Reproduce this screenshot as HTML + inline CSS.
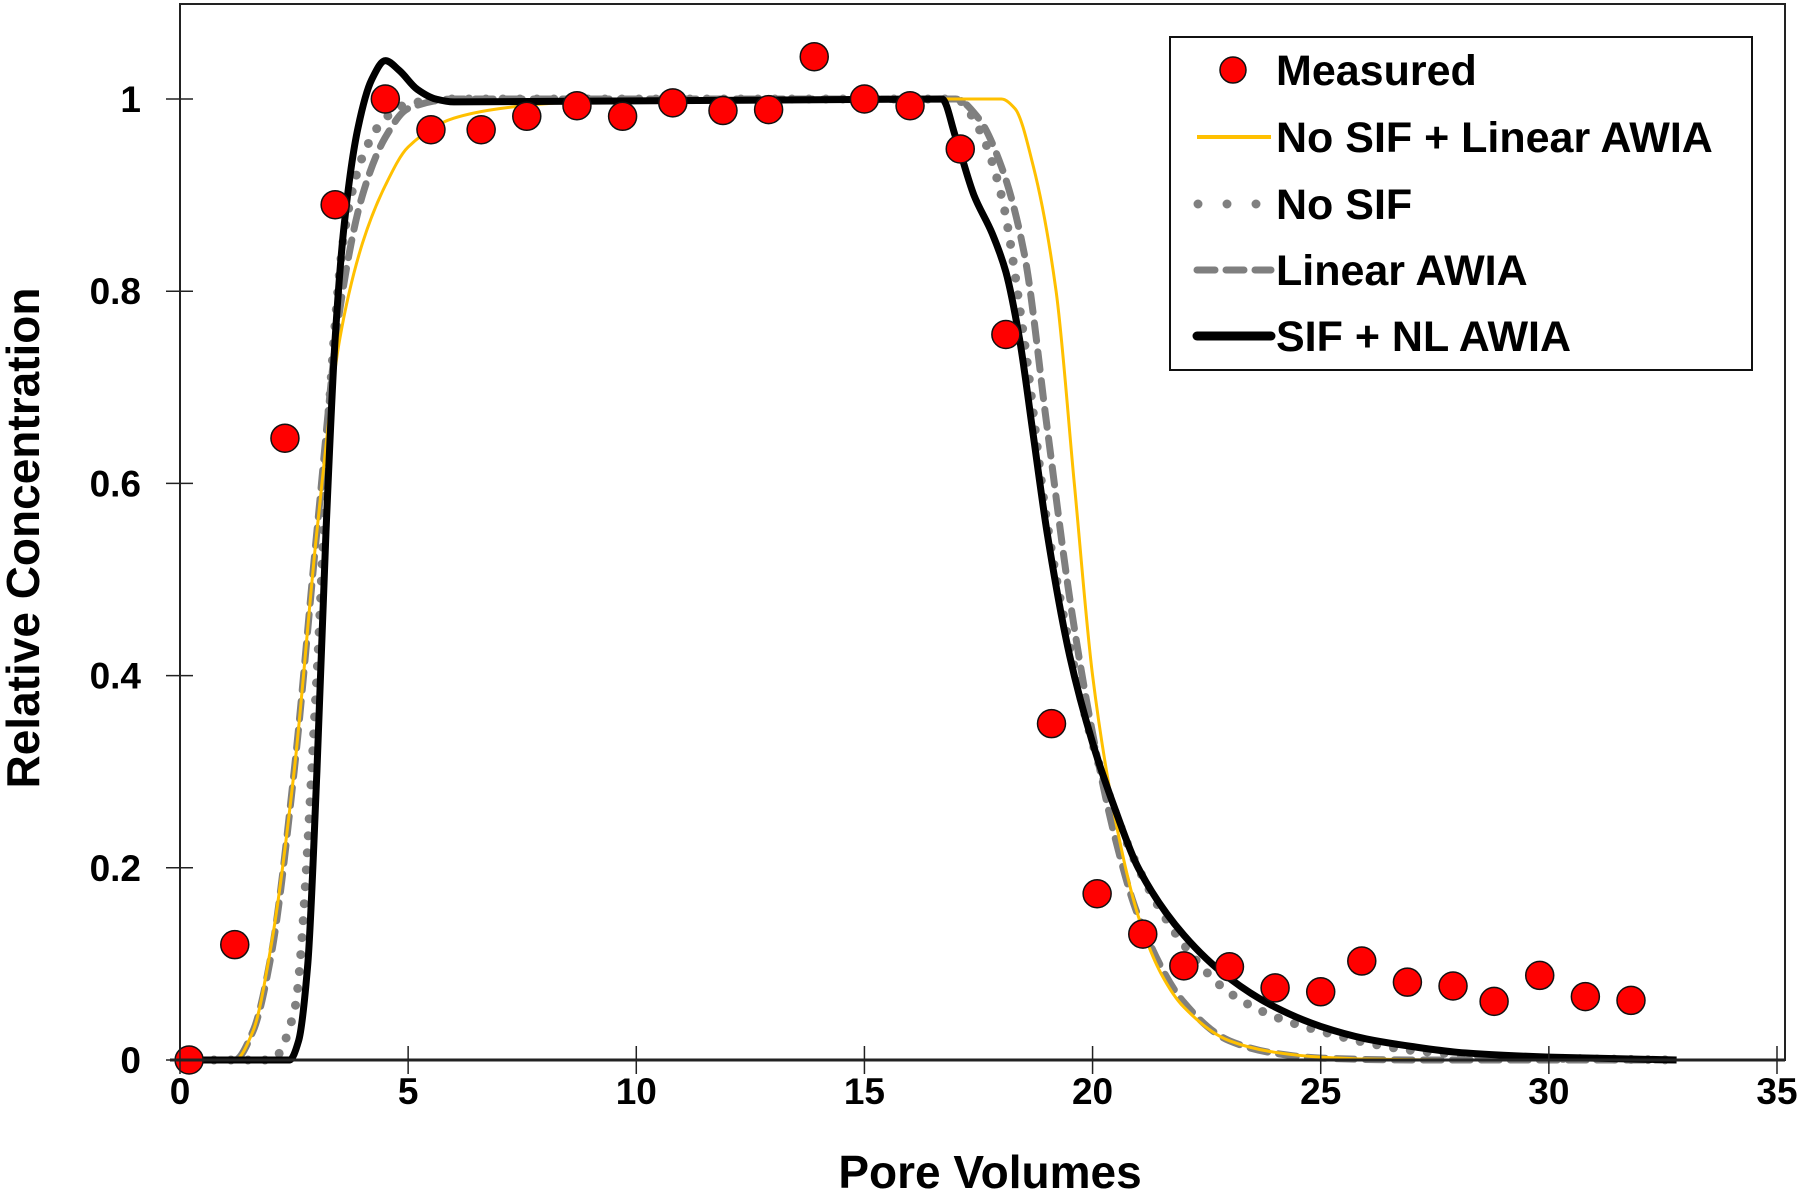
<!DOCTYPE html>
<html><head><meta charset="utf-8">
<style>
html,body{margin:0;padding:0;background:#fff;}
svg{display:block;font-family:"Liberation Sans",Arial,sans-serif;font-weight:bold;}
</style></head>
<body>
<svg id="chart" width="1800" height="1192" viewBox="0 0 1800 1192" xmlns="http://www.w3.org/2000/svg">
<g id="grid"></g>
<g id="series"></g>
<g id="axes"></g>
<g id="legend"></g>
</svg>
<script>
const xTicks=[0,5,10,15,20,25,30,35];
const yTicks=[0,0.2,0.4,0.6,0.8,1];
const yTickLabels=["0","0.2","0.4","0.6","0.8","1"];
const measuredX=[0.2,1.2,2.3,3.4,4.5,5.5,6.6,7.6,8.7,9.7,10.8,11.9,12.9,13.9,15,16,17.1,18.1,19.1,20.1,21.1,22,23,24,25,25.9,26.9,27.9,28.8,29.8,30.8,31.8];
const measuredY=[0,0.12,0.647,0.89,1.0,0.968,0.968,0.982,0.993,0.982,0.996,0.988,0.989,1.044,1.0,0.993,0.948,0.755,0.35,0.173,0.131,0.098,0.097,0.075,0.071,0.103,0.081,0.077,0.061,0.088,0.066,0.062];
const yellowX=[0,1.2,1.6,2,2.5,3,3.5,4,4.5,5,6,7,8,10,17,18,18.3,18.7,19.2,19.6,20,20.5,21,21.5,22,23,24,25,26,28,32.8];
const yellowY=[0,0,0.03,0.12,0.3,0.55,0.75,0.85,0.91,0.95,0.98,0.99,0.995,1,1,1,0.99,0.93,0.8,0.6,0.4,0.25,0.15,0.09,0.055,0.02,0.008,0.003,0.001,0,0];
const linearX=[0,1.2,1.6,2,2.5,3,3.5,4,4.5,5,6,17,17.5,18,18.5,19,19.5,20,20.5,21,22,23,24,25,27,32.8];
const linearY=[0,0,0.03,0.11,0.3,0.55,0.78,0.9,0.96,0.99,1.0,1,0.98,0.93,0.84,0.66,0.48,0.34,0.23,0.15,0.06,0.02,0.007,0.002,0,0];
const noSifX=[0,2,2.5,3,3.3,3.6,4,4.5,5,6,17,17.5,18,18.5,19,19.5,20,21,22,23,24,25,26,27,28,30,32.8];
const noSifY=[0,0,0.05,0.4,0.7,0.86,0.94,0.98,0.995,1,1,0.97,0.9,0.75,0.56,0.43,0.33,0.2,0.12,0.07,0.045,0.03,0.018,0.01,0.006,0.002,0];
const sifX=[0,2.4,2.6,2.8,3.0,3.2,3.4,3.6,3.9,4.2,4.5,4.8,5.2,5.6,6,16.7,17,17.4,17.8,18.1,18.4,18.7,19,19.5,20,20.5,21,22,23,24,25,26,27,28,29,30,32.8];
const sifY=[0,0,0.02,0.1,0.3,0.55,0.75,0.87,0.97,1.02,1.04,1.03,1.01,1.0,0.997,1,0.96,0.9,0.86,0.82,0.75,0.65,0.55,0.42,0.33,0.26,0.2,0.13,0.085,0.055,0.035,0.022,0.014,0.008,0.005,0.003,0];

const NS="http://www.w3.org/2000/svg";
const X0=180,X1=1777,Y0=1060,Y1=99;
const sx=v=>X0+(X1-X0)*v/35;
const sy=v=>Y0-(Y0-Y1)*v;
function mk(tag,attrs,parent){const e=document.createElementNS(NS,tag);for(const k in attrs)e.setAttribute(k,attrs[k]);parent.appendChild(e);return e;}
const G=document.getElementById('grid'),S=document.getElementById('series'),A=document.getElementById('axes'),L=document.getElementById('legend');

let fr=mk('rect',{x:180,y:4,width:1605,height:1056,fill:'none',stroke:'#222','stroke-width':2},G);



// monotone cubic (Fritsch-Carlson) in data space
function monoD(xs,ys){
  const n=xs.length,dx=[],m=[],t=new Array(n);
  for(let i=0;i<n-1;i++){dx[i]=xs[i+1]-xs[i];m[i]=(ys[i+1]-ys[i])/dx[i];}
  t[0]=m[0];t[n-1]=m[n-2];
  for(let i=1;i<n-1;i++){t[i]=(m[i-1]*m[i]<=0)?0:3*(dx[i-1]+dx[i])/((2*dx[i]+dx[i-1])/m[i-1]+(dx[i]+2*dx[i-1])/m[i]);}
  let d='M'+sx(xs[0]).toFixed(1)+','+sy(ys[0]).toFixed(1);
  for(let i=0;i<n-1;i++){
    const h=dx[i];
    const c1x=xs[i]+h/3,c1y=ys[i]+t[i]*h/3,c2x=xs[i+1]-h/3,c2y=ys[i+1]-t[i+1]*h/3;
    d+='C'+sx(c1x).toFixed(1)+','+sy(c1y).toFixed(1)+' '+sx(c2x).toFixed(1)+','+sy(c2y).toFixed(1)+' '+sx(xs[i+1]).toFixed(1)+','+sy(ys[i+1]).toFixed(1);
  }
  return d;
}
function path(xs,ys,attrs,name){
  const p=mk('path',Object.assign({d:monoD(xs,ys),fill:'none','stroke-linejoin':'round'},attrs),S);
  
  
}
path(linearX,linearY,{stroke:'#7f7f7f','stroke-width':7,'stroke-dasharray':'18 11','stroke-linecap':'round'},'linear-awia-line');
path(noSifX,noSifY,{stroke:'#808080','stroke-width':9,'stroke-dasharray':'0 17','stroke-linecap':'round'},'no-sif-line');
path(yellowX,yellowY,{stroke:'#ffc000','stroke-width':3},'no-sif-linear-awia-line');
path(sifX,sifY,{stroke:'#000','stroke-width':7},'sif-nl-awia-line');

let ax=mk('line',{x1:170,y1:Y0,x2:1785,y2:Y0,stroke:'#222','stroke-width':3},A);


xTicks.forEach(t=>{
  const tk=mk('line',{x1:sx(t),y1:Y0-14,x2:sx(t),y2:Y0+14,stroke:'#222','stroke-width':1.5},A);
  
  
  const tx=mk('text',{x:sx(t),y:1104,'text-anchor':'middle','font-size':37},A);
  tx.textContent=t;
  
  
});
yTicks.forEach((t,i)=>{
  const tk=mk('line',{x1:166,y1:sy(t),x2:193,y2:sy(t),stroke:'#222','stroke-width':1.5},A);
  
  
  const tx=mk('text',{x:141,y:sy(t)+13,'text-anchor':'end','font-size':37},A);
  tx.textContent=yTickLabels[i];
  
  
});
let xt=mk('text',{x:990,y:1188,'text-anchor':'middle','font-size':46},A);
xt.textContent='Pore Volumes';


let yt=mk('text',{x:0,y:0,'text-anchor':'middle','font-size':46,transform:'translate(39,538) rotate(-90)'},A);
yt.textContent='Relative Concentration';



measuredX.forEach((x,i)=>{
  const c=mk('circle',{cx:sx(x),cy:sy(measuredY[i]),r:14,fill:'#ff0000',stroke:'#111','stroke-width':1.5},S);
  
  
});

let lb=mk('rect',{x:1170,y:37,width:582,height:333,fill:'#fff',stroke:'#111','stroke-width':2},L);


const rows=[70,137,204,270,336];
const labels=['Measured','No SIF + Linear AWIA','No SIF','Linear AWIA','SIF + NL AWIA'];
let m=mk('circle',{cx:1233,cy:rows[0],r:13,fill:'#ff0000',stroke:'#111','stroke-width':1.5},L);


const sw=[{stroke:'#ffc000','stroke-width':4},{stroke:'#808080','stroke-width':9,'stroke-dasharray':'0 29','stroke-linecap':'round'},{stroke:'#7f7f7f','stroke-width':7,'stroke-dasharray':'18 11','stroke-linecap':'round'},{stroke:'#000','stroke-width':9,'stroke-linecap':'round'}];
sw.forEach((a,i)=>{
  const x1=i==1?1198:1197;
  const l=mk('line',Object.assign({x1:x1,y1:rows[i+1],x2:i==1?1258:1271,y2:rows[i+1]},a),L);
  
  
});
labels.forEach((t,i)=>{
  const tx=mk('text',{x:1276,y:rows[i]+15,'font-size':43},L);
  tx.textContent=t;
  
  
});
</script>
</body></html>
